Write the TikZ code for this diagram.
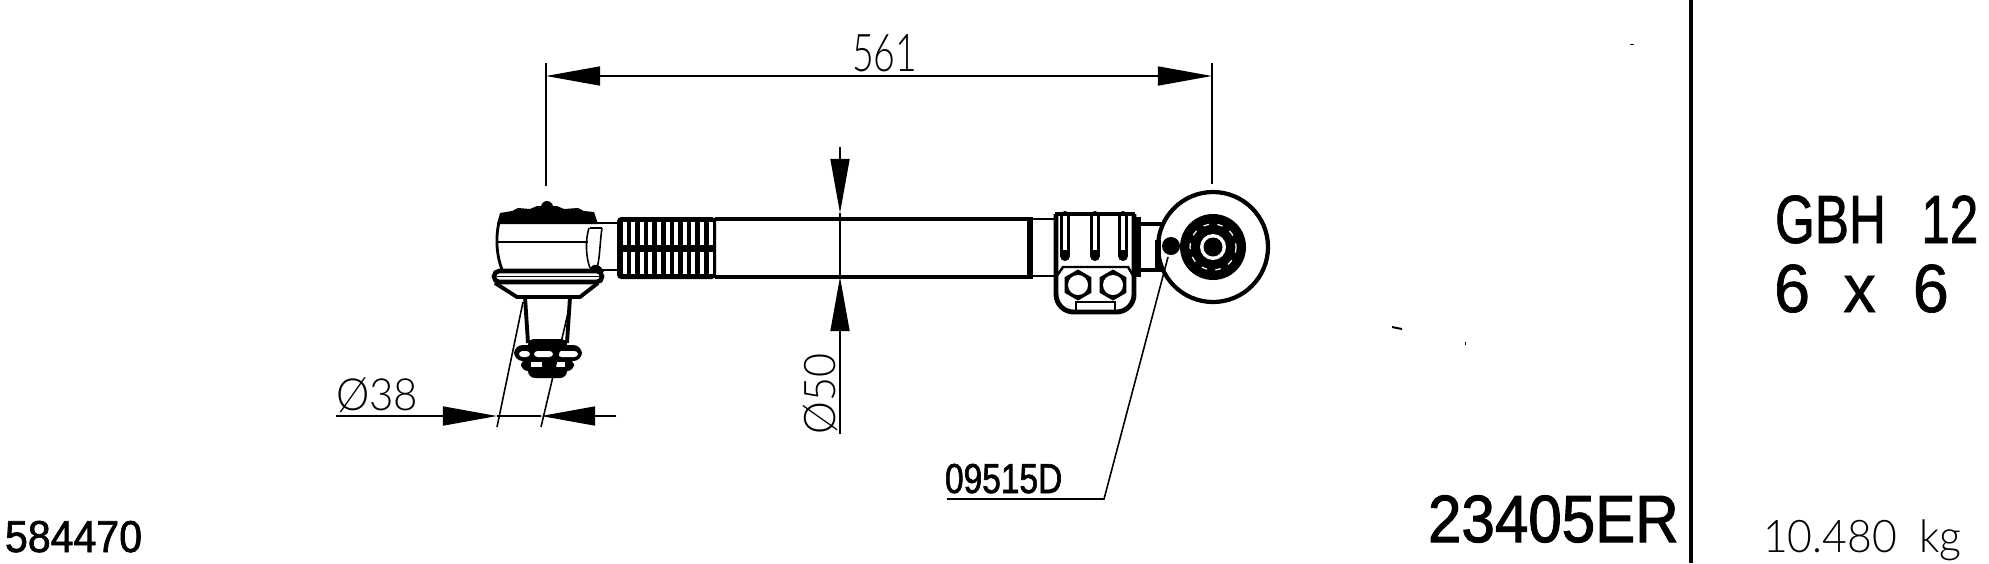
\documentclass[tikz,border=0pt]{standalone}
\usepackage{fontspec}
\setmainfont{Liberation Sans}
\newfontfamily\headfont{Liberation Sans}[FakeStretch=.75,FakeBold=1]
\newfontfamily\sixfont{Liberation Sans}[FakeStretch=.95,FakeBold=1]
\newfontfamily\partfont{Liberation Sans}[FakeStretch=.90,FakeBold=1.5]
\newfontfamily\refsfont{Liberation Sans}[FakeStretch=.80,FakeBold=1.5]
\newfontfamily\codefont{Liberation Sans}[FakeStretch=.92,FakeBold=1.5]
\newfontfamily\thinfont{Lato Light}[FakeStretch=.72]
\newfontfamily\dimfont{Lato Light}[FakeStretch=.95]
\usetikzlibrary{arrows.meta,shapes.geometric}
\begin{document}
\begin{tikzpicture}[x=0.01cm,y=-0.01cm,
    heavy/.style={line width=1.3pt},
    mid/.style={line width=.8pt},
    thin line/.style={line width=.45pt},
    dimline/.style={line width=.45pt,>={Triangle[length=.54cm,width=.19cm]}},
    bolt/.style={regular polygon,regular polygon sides=6,shape border rotate=30,fill,minimum size=.31cm,inner sep=0pt},
    hole/.style={circle,fill=white,minimum size=.2cm,inner sep=0pt},
    slot/.style={line width=2.85pt,line cap=round},
    label/.style={anchor=base west,inner sep=0pt,outer sep=0pt}]
  \useasboundingbox (0,0) rectangle (1989,563);

  % separator
  \coordinate (septop) at (1691,0);
  \coordinate (sepbot) at (1691,563);
  \draw[line width=1.3pt] (septop) -- (sepbot);

  % rod and thread
  \draw[heavy] (715,219) -- (1030,219);
  \draw[heavy] (715,277) -- (1030,277);
  \draw[mid] (597,223) -- (617,223);
  \draw[mid] (597,270) -- (617,270);
  \fill[rounded corners=1.2pt] (617,217) rectangle (716,279);
  \foreach \s in {0,...,10} {
    \fill[white] ({622.5+8.6*\s},222) rectangle ({626.5+8.6*\s},245);
    \fill[white] ({622.5+8.6*\s},252) rectangle ({626.5+8.6*\s},274);
  }
  \draw[line width=1.6pt] (1030,217) -- (1030,279);
  \draw[mid] (1032,219) -- (1056,219);
  \draw[mid] (1032,276) -- (1056,276);

  % ball joint
  \fill (541,207) arc[start angle=180,end angle=360,radius=6] -- cycle;
  \fill (497,224) -- (500,213) -- (512,211) -- (518,208) -- (530,209) -- (537,206) -- (557,206) -- (564,209) -- (578,208) -- (584,211) -- (594,212) -- (598,224) -- cycle;
  \draw[mid] (499,222) .. controls (495,240) and (497,258) .. (503,272);
  \draw[thin line] (498,242) -- (588,242);
  \draw[thin line] (589,228) .. controls (585,240) and (586,258) .. (590,268);
  \draw[thin line] (602,228) .. controls (600,240) and (600,258) .. (597,268);
  \draw[thin line] (590,228) -- (602,228);
  \fill (590,268) .. controls (595,262) and (600,264) .. (604,272) -- (590,272) -- cycle;
  \draw[heavy,rounded corners=1.5pt,fill=white] (494,271) rectangle (602,282);
  \draw[line width=.3pt] (497,276.5) -- (600,276.5);
  \draw[line width=1.1pt] (495,283) -- (517,297) -- (580,297) -- (598,283);
  \draw[line width=1.1pt] (525,297) -- (528,343);
  \draw[line width=1.1pt] (570,297) -- (567,343);

  % castle nut
  \fill[rounded corners=1.5pt] (528,339) rectangle (567,350);
  \fill[rounded corners=2.5pt] (514,345) rectangle (582,361);
  \fill[rounded corners=2pt] (521,359) rectangle (574,371);
  \fill[rounded corners=2pt] (528,365) rectangle (567,378);
  \fill[white,rounded corners=1pt] (519,351) rectangle (530,357);
  \fill[white,rounded corners=1pt] (534,351) rectangle (553,357);
  \fill[white,rounded corners=1pt] (558,351) rectangle (578,357);
  \fill[white] (531,362) rectangle (542,367);
  \fill[white] (556,362) rectangle (565,367);

  % clamp
  \draw[line width=1.4pt,fill=white,rounded corners=5pt] (1056,214) -- (1056,312) -- (1134,312) -- (1134,214);
  \foreach \c in {1065,1095,1123} {
    \draw[slot] (\c,216) -- (\c,256);
    \draw[white,line width=1pt] (\c,216) -- (\c,250);
  }
  \draw[line width=1.4pt] (1055,214) -- (1135,214);
  \fill (1134,217) rectangle (1141,277);
  \draw[line width=.7pt] (1056,277) -- (1063,267) -- (1128,267) -- (1134,277);
  \draw[thin line] (1076,312) -- (1076,302) -- (1115,302) -- (1115,312);
  \node[bolt] (bolta) at (1078,285) {};
  \node[bolt] (boltb) at (1113,285) {};
  \node[hole] (holea) at (1078,285) {};
  \node[hole] (holeb) at (1113,285) {};

  % eye end
  \draw[heavy] (1139,224) -- (1168,224);
  \draw[heavy] (1139,270) -- (1168,270);
  \coordinate (eye) at (1213,247);
  \draw[line width=1.2pt,fill=white] (eye) circle[radius=55];
  \fill (eye) circle[radius=33];
  \draw[white,line width=.35pt,dash pattern=on 1.6pt off 2.4pt] (eye) circle[radius=23];
  \fill[white] (eye) circle[radius=13];
  \fill (eye) circle[radius=9.5];
  \draw[line width=1.5pt] (1158,240) -- (1158,270);
  \node[circle,fill,inner sep=0pt,minimum size=.18cm] (grease) at (1171,246) {};

  % dimension 561
  \coordinate (leftext) at (546,63);
  \coordinate (leftfoot) at (546,186);
  \coordinate (rightext) at (1212,63);
  \coordinate (rightfoot) at (1212,184);
  \coordinate (leftarr) at (546,76);
  \coordinate (rightarr) at (1212,76);
  \draw[thin line] (leftext) -- (leftfoot);
  \draw[thin line] (rightext) -- (rightfoot);
  \draw[dimline,<->] (leftarr) -- (rightarr);
  \node[label,font=\thinfont\fontsize{14.8}{16}\selectfont] (len) at (852,71) {561};

  % dimension 50
  \coordinate (rodtop) at (840,147);
  \coordinate (rodtip) at (840,213);
  \coordinate (rodbot) at (840,434);
  \coordinate (rodbip) at (840,277);
  \draw[dimline,->] (rodtop) -- (rodtip);
  \draw[dimline,->] (rodbot) -- (rodbip);
  \draw[thin line] (rodtip) -- (rodbip);
  \node[label,rotate=90,font=\dimfont\fontsize{12.4}{13}\selectfont] (dia50) at (835,434) {Ø50};

  % dimension 38
  \coordinate (pina) at (523,302);
  \coordinate (pinb) at (497,427);
  \coordinate (pinc) at (568,313);
  \coordinate (pind) at (541,427);
  \coordinate (dl) at (336,416);
  \coordinate (dm) at (497,416);
  \coordinate (dn) at (541,416);
  \coordinate (dr) at (616,416);
  \draw[thin line] (pina) -- (pinb);
  \draw[thin line] (pinc) -- (pind);
  \draw[dimline,->] (dl) -- (dm);
  \draw[dimline,->] (dr) -- (dn);
  \draw[thin line] (dm) -- (dn);
  \node[label,font=\dimfont\fontsize{12.6}{14}\selectfont] (dia38) at (336,410) {Ø38};

  % leader to grease nipple
  \coordinate (leada) at (1168,257);
  \coordinate (leadb) at (1104,499);
  \coordinate (leadc) at (947,499);
  \draw[line width=.45pt] (leada) -- (leadb) -- (leadc);
  \node[label,font=\refsfont\fontsize{11.9}{12}\selectfont] (nipple) at (945,493) {09515D};

  % texts
  \node[label,font=\codefont\fontsize{12.7}{14}\selectfont] (code) at (5,552) {584470};
  \node[label,font=\partfont\fontsize{19}{20}\selectfont] (part) at (1428,542) {23405ER};
  \node[label,font=\headfont\fontsize{19.4}{20}\selectfont] (veh) at (1775,243) {GBH\hspace{.52em}12};
  \node[label,font=\sixfont\fontsize{19.4}{20}\selectfont] (drive) at (1774,312) {6\hspace{9.5pt}x\hspace{10.5pt}6};
  \node[label,font=\dimfont\fontsize{12.8}{14}\selectfont] (mass) at (1763,552) {10.480\hspace{.5em}kg};

  % specks
  \fill (1392,326) -- (1402,328) -- (1402,330) -- (1392,328) -- cycle;
  \fill (1630,44) rectangle (1634,45);
  \fill (1465,342) rectangle (1466,345);
\end{tikzpicture}
\end{document}
